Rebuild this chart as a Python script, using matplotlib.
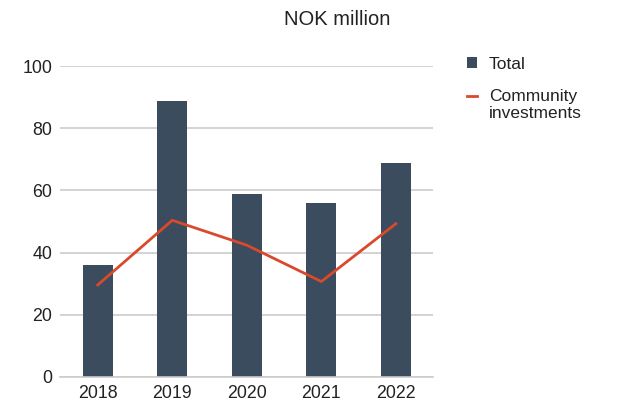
import matplotlib
matplotlib.use('Agg')

import matplotlib.pyplot as plt
from matplotlib.lines import Line2D
from matplotlib.patches import Patch
import numpy as np

plt.rcParams['font.family'] = ['Liberation Sans', 'DejaVu Sans']

# data
years = ['2018', '2019', '2020', '2021', '2022']
total = [36, 88.8, 58.9, 56, 68.9]
community = [29.6, 50.4, 42.4, 30.7, 49.3]

bar_color = '#3a4c5d'
line_color = '#d94a2c'
grid_color = '#cccccc'
text_color = '#222222'

fig = plt.figure(figsize=(6.17, 4.08), dpi=100)
ax = fig.add_axes([0.098, 0.076, 0.604, 0.762])

x = np.arange(len(years))
ax.bar(x, total, width=0.4, color=bar_color, zorder=2)
ax.plot(x, community, color=line_color, linewidth=2, zorder=3)

ax.set_xlim(-0.5, len(years) - 0.5)
ax.set_ylim(0, 100)
ax.set_yticks([0, 20, 40, 60, 80, 100])
ax.set_xticks(x)
ax.set_xticklabels(years)

ax.yaxis.grid(True, color=grid_color, linewidth=1.2, zorder=0)
ax.set_axisbelow(True)
for s in ['top', 'right', 'left']:
    ax.spines[s].set_visible(False)
ax.spines['bottom'].set_color(grid_color)
ax.spines['bottom'].set_linewidth(1.2)
ax.tick_params(axis='both', length=0, labelsize=12.8, colors=text_color)
ax.tick_params(axis='y', pad=6)
ax.tick_params(axis='x', pad=6)

fig.text(0.546, 0.952, 'NOK million', ha='center', va='center', fontsize=14.5, color=text_color)

# legend: second label wraps onto a line of its own
handles = [Patch(facecolor=bar_color, edgecolor='none'),
           Line2D([0], [0], color=line_color, linewidth=2)]
fig.legend(handles, ['Total', 'Community'], loc='upper left',
           bbox_to_anchor=(0.757, 0.861), frameon=False, fontsize=12.5,
           handlelength=0.6, handleheight=0.6, handletextpad=0.65,
           labelspacing=1.02, borderpad=0, borderaxespad=0,
           labelcolor=text_color)
fig.text(489 / 617, 1 - 114 / 408, 'investments', ha='left', va='center',
         fontsize=12.5, color=text_color)

plt.savefig('out.png', dpi=100)
